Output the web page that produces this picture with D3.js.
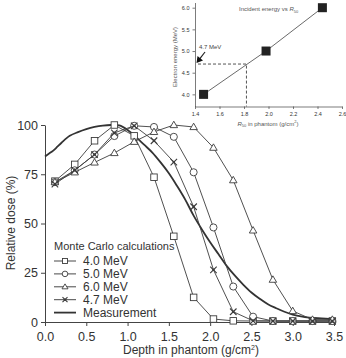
<!DOCTYPE html>
<html>
<head>
<meta charset="utf-8">
<script src="https://cdn.jsdelivr.net/npm/d3@7"></script>
<style>
  body { margin: 0; background: #fff; }
  svg { display: block; font-family: "Liberation Sans", Arial, sans-serif; }
  .axis path, .axis line { stroke: #444; }
  .axis text { fill: #333; font-family: "Liberation Sans", Arial, sans-serif; }
</style>
</head>
<body>
<svg id="chart" width="346" height="358"></svg>
<script>
// depth of Monte Carlo points (g/cm2)
const mcDepth = [0.12, 0.36, 0.60, 0.84, 1.08, 1.32, 1.56, 1.80, 2.04, 2.28, 2.52, 2.76, 3.00, 3.24, 3.48];
const mc40 = [71.5, 80, 92, 100, 94.5, 73.5, 43.5, 12.5, 1.5, 0.6, 0.5, 0.5, 0.5, 0.5, 0.5];
const mc50 = [71, 77, 85, 94.4, 99.6, 99, 94, 76, 48, 18, 2.7, 0.5, 0.5, 0.5, 0.5];
const mc60 = [71, 76, 81, 85.8, 91.5, 96.5, 100, 99, 88.5, 72, 46.5, 21.5, 5.6, 1.2, 1.2];
const mc47 = [70, 77, 85, 96, 99.6, 92, 81.2, 58.5, 26.5, 5.2, 0.6, 0.5, 0.5, 0.5, 0.5];

// measured depth dose curve
const measDepth = [0, 0.05, 0.1, 0.15, 0.2, 0.3, 0.4, 0.5, 0.6, 0.7, 0.8, 0.9, 1.0, 1.1, 1.2, 1.3, 1.4, 1.5,
  1.6, 1.7, 1.8, 1.9, 2.0, 2.1, 2.2, 2.3, 2.4, 2.5, 2.6, 2.7, 2.8, 2.9, 3.0, 3.1, 3.2, 3.35, 3.48];
const measDose = [84, 85.5, 87, 89, 91, 94.5, 96.4, 97.9, 99, 99.7, 100, 99.8, 97.5, 94, 90, 86, 81, 75.5,
  69, 62, 54, 47, 40.5, 34.5, 28.5, 23.5, 19, 15, 11.8, 9, 7, 5.2, 3.8, 2.8, 2.2, 1.8, 1.5];

const xTicks = [0, 0.5, 1.0, 1.5, 2.0, 2.5, 3.0, 3.5];
const yTicks = [0, 25, 50, 75, 100];
const legendTitle = "Monte Carlo calculations";
const legendLabels = ["4.0 MeV", "5.0 MeV", "6.0 MeV", "4.7 MeV", "Measurement"];

// inset: incident energy vs R50
const insetR50 = [1.47, 1.98, 2.44];
const insetEnergy = [4.0, 5.0, 6.0];
const insetXTicks = [1.4, 1.6, 1.8, 2.0, 2.2, 2.4, 2.6];
const insetYTicks = [4.0, 4.5, 5.0, 5.5, 6.0];
const pickEnergy = 4.7, pickR50 = 1.82;

const ink = "#3c3c3c";
const svg = d3.select("#chart");

// ---------- main chart ----------
const x = d3.scaleLinear().domain([0, 3.5]).range([45, 334]);
const y = d3.scaleLinear().domain([0, 100]).range([322, 125]);

svg.append("g").attr("class", "axis")
  .attr("transform", "translate(0,322)")
  .call(d3.axisBottom(x).tickValues(xTicks).tickFormat(d3.format(".1f")).tickSize(4).tickSizeOuter(0))
  .call(g => g.selectAll("text").attr("font-size", 12.5).attr("dy", "0.95em"));

svg.append("g").attr("class", "axis")
  .attr("transform", "translate(45,0)")
  .call(d3.axisLeft(y).tickValues(yTicks).tickSize(4).tickSizeOuter(0))
  .call(g => g.selectAll("text").attr("font-size", 12.5));

svg.append("text")
  .attr("transform", "translate(15,223) rotate(-90)")
  .attr("text-anchor", "middle").attr("font-size", 12).attr("fill", "#333")
  .text("Relative dose (%)");

const xl = svg.append("text")
  .attr("x", 191).attr("y", 354)
  .attr("text-anchor", "middle").attr("font-size", 12).attr("fill", "#333");
xl.append("tspan").text("Depth in phantom (g/cm");
xl.append("tspan").attr("dy", -4).attr("font-size", 7).text("2");
xl.append("tspan").attr("dy", 4).text(")");

// markers
function marker(g, kind, s) {
  if (kind === "square") {
    g.append("rect").attr("x", -s / 2).attr("y", -s / 2).attr("width", s).attr("height", s)
      .attr("fill", "#fff").attr("stroke", ink).attr("stroke-width", 0.9);
  } else if (kind === "circle") {
    g.append("circle").attr("r", s / 2 + 0.3).attr("fill", "#fff").attr("stroke", ink).attr("stroke-width", 0.9);
  } else if (kind === "triangle") {
    const h = s * 0.9;
    g.append("path").attr("d", `M0,${-h * 0.65}L${s / 2 + 0.5},${h * 0.45}L${-s / 2 - 0.5},${h * 0.45}Z`)
      .attr("fill", "#fff").attr("stroke", ink).attr("stroke-width", 0.9);
  } else if (kind === "star") {
    const r = s / 2;
    g.append("path").attr("d", `M${-r},${-r}L${r},${r}M${-r},${r}L${r},${-r}`)
      .attr("stroke", ink).attr("stroke-width", 1.1);
    g.append("circle").attr("r", 1.3).attr("fill", ink);
  }
}

const series = [
  { vals: mc40, kind: "square" },
  { vals: mc50, kind: "circle" },
  { vals: mc60, kind: "triangle" },
  { vals: mc47, kind: "star" }
];

const line = d3.line().x(d => x(d[0])).y(d => y(d[1]));

// measurement curve
svg.append("path")
  .datum(measDepth.map((d, i) => [d, measDose[i]]))
  .attr("fill", "none").attr("stroke", "#333").attr("stroke-width", 1.8)
  .attr("d", line.curve(d3.curveCatmullRom));

line.curve(d3.curveLinear);

series.forEach(sr => {
  const pts = mcDepth.map((d, i) => [d, sr.vals[i]]);
  svg.append("path").datum(pts)
    .attr("fill", "none").attr("stroke", ink).attr("stroke-width", 0.9)
    .attr("d", line);
  pts.forEach(p => {
    const g = svg.append("g").attr("transform", `translate(${x(p[0])},${y(p[1])})`);
    marker(g, sr.kind, 6.5);
  });
});

// legend
const lg = svg.append("g").attr("transform", "translate(54,246)");
lg.append("text").attr("x", 0).attr("y", 4).attr("font-size", 11).attr("fill", "#333").text(legendTitle);
legendLabels.forEach((lab, i) => {
  const cy = 15 + i * 12.9;
  lg.append("line").attr("x1", 0).attr("x2", 22).attr("y1", cy).attr("y2", cy)
    .attr("stroke", "#333").attr("stroke-width", i === 4 ? 1.8 : 0.9);
  if (i < 4) {
    const g = lg.append("g").attr("transform", `translate(11,${cy})`);
    marker(g, series[i].kind, 5);
  }
  lg.append("text").attr("x", 29).attr("y", cy + 4.3).attr("font-size", 12).attr("fill", "#333").text(lab);
});

// ---------- inset ----------
const ix = d3.scaleLinear().domain([1.4, 2.6]).range([195, 342]);
const iy = d3.scaleLinear().domain([3.72, 6.12]).range([106.5, 2.5]);

svg.append("g").attr("class", "axis")
  .attr("transform", "translate(0,106.5)")
  .call(d3.axisBottom(ix).tickValues(insetXTicks).tickFormat(d3.format(".1f")).tickSize(2.5).tickSizeOuter(0))
  .call(g => g.selectAll("text").attr("font-size", 5.5).attr("fill", "#555"))
  .call(g => g.selectAll("path, line").attr("stroke", "#666").attr("stroke-width", 0.7));

svg.append("g").attr("class", "axis")
  .attr("transform", "translate(195,0)")
  .call(d3.axisLeft(iy).tickValues(insetYTicks).tickFormat(d3.format(".1f")).tickSize(2.5).tickSizeOuter(0))
  .call(g => g.selectAll("text").attr("font-size", 5.5).attr("fill", "#555"))
  .call(g => g.selectAll("path, line").attr("stroke", "#666").attr("stroke-width", 0.7));

svg.append("text")
  .attr("transform", "translate(177,57) rotate(-90)")
  .attr("text-anchor", "middle").attr("font-size", 6).attr("fill", "#555")
  .text("Electron energy (MeV)");

const ixl = svg.append("text").attr("x", 268).attr("y", 125.5)
  .attr("text-anchor", "middle").attr("font-size", 6).attr("fill", "#555");
ixl.append("tspan").attr("font-style", "italic").text("R");
ixl.append("tspan").attr("dy", 1.5).attr("font-size", 4).text("50");
ixl.append("tspan").attr("dy", -1.5).text(" in phantom (g/cm");
ixl.append("tspan").attr("dy", -2.5).attr("font-size", 4).text("2");
ixl.append("tspan").attr("dy", 2.5).text(")");

const it = svg.append("text").attr("x", 239).attr("y", 11).attr("font-size", 6).attr("fill", "#555");
it.append("tspan").text("Incident energy vs ");
it.append("tspan").attr("font-style", "italic").text("R");
it.append("tspan").attr("dy", 1.5).attr("font-size", 4).text("50");

// dashed guide
svg.append("path")
  .attr("d", `M${ix(1.4) + 3},${iy(pickEnergy)}H${ix(pickR50)}V${iy(3.72)}`)
  .attr("fill", "none").attr("stroke", "#555").attr("stroke-width", 1)
  .attr("stroke-dasharray", "3,2");

// fit line
svg.append("path")
  .datum(insetR50.map((d, i) => [d, insetEnergy[i]]))
  .attr("fill", "none").attr("stroke", "#444").attr("stroke-width", 0.8)
  .attr("d", d3.line().x(d => ix(d[0])).y(d => iy(d[1])));

insetR50.forEach((d, i) => {
  svg.append("rect")
    .attr("x", ix(d) - 4.5).attr("y", iy(insetEnergy[i]) - 4.5)
    .attr("width", 9).attr("height", 9).attr("fill", "#222");
});

// arrow + label
svg.append("text").attr("x", 199).attr("y", 49).attr("font-size", 6).attr("fill", "#444").text("4.7 MeV");
const ax0 = 205, ay0 = 52, ax1 = ix(1.4) + 1.5, ay1 = iy(pickEnergy) - 1;
svg.append("line").attr("x1", ax0).attr("y1", ay0).attr("x2", ax1 + 3).attr("y2", ay1 - 4)
  .attr("stroke", "#222").attr("stroke-width", 1.2);
svg.append("path")
  .attr("d", `M${ax1},${ay1}L${ax1 + 1},${ay1 - 7}L${ax1 + 6.5},${ay1 - 2.5}Z`)
  .attr("fill", "#111");
</script>
</body>
</html>
